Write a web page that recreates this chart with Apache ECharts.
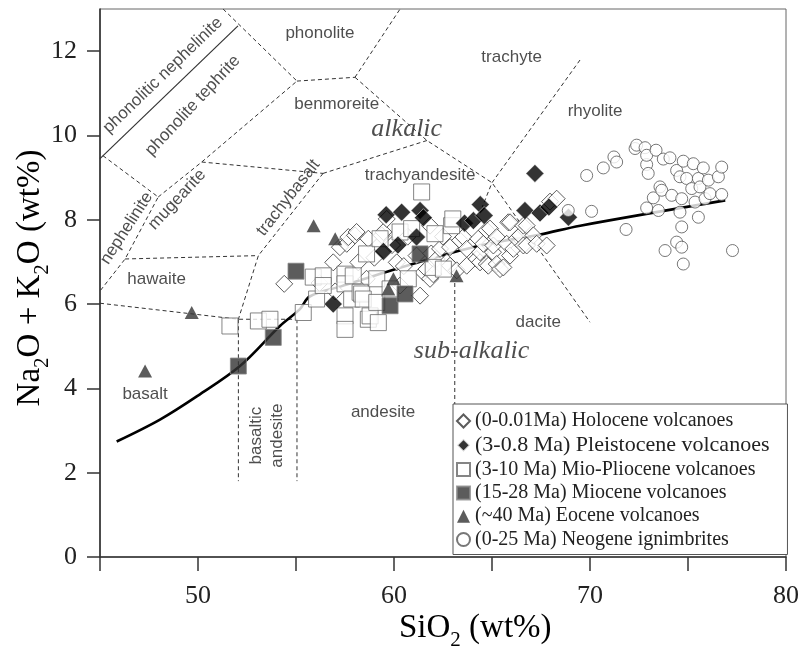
<!DOCTYPE html>
<html><head><meta charset="utf-8">
<script src="https://cdn.jsdelivr.net/npm/echarts@6/dist/echarts.min.js"></script>
<style>html,body{margin:0;padding:0;background:#fff}#c{width:805px;height:651px}</style>
</head><body><div id="c"></div>
<script>
// ---- data (SiO2 wt%, Na2O+K2O wt%) ----
const holocene = [[54.4,6.48],[56.2,6.5],[56.9,6.99],[57.0,6.3],[57.24,7.35],[57.59,7.43],[57.67,7.59],[58.01,7.63],[58.09,7.71],[58.18,6.99],[58.6,6.6],[58.69,7.55],[59.0,7.1],[59.37,7.63],[59.46,7.71],[59.63,8.02],[59.9,7.4],[60.14,6.99],[60.31,6.44],[60.5,6.9],[60.7,7.6],[61.15,7.15],[61.33,6.2],[61.5,6.75],[61.66,6.83],[61.84,6.6],[61.84,7.86],[61.9,7.2],[62.0,6.71],[62.18,7.07],[62.35,7.31],[62.5,7.6],[62.69,6.99],[62.86,7.35],[62.86,6.91],[63.2,6.8],[63.37,7.51],[63.54,7.59],[63.71,6.91],[63.71,7.31],[64.22,7.07],[64.3,7.55],[64.39,6.99],[64.39,7.23],[64.56,7.43],[64.73,6.95],[64.73,7.75],[64.81,6.91],[64.9,7.79],[65.05,7.23],[65.07,7.39],[65.24,6.95],[65.24,7.59],[65.41,6.83],[65.58,6.87],[65.75,7.43],[65.83,7.94],[65.92,7.15],[65.92,7.94],[66.09,7.31],[66.26,7.55],[66.43,7.63],[66.6,7.39],[66.6,7.86],[66.77,7.39],[66.77,7.86],[67.11,7.63],[67.28,7.43],[67.79,7.39],[67.96,8.43],[68.3,8.5]];
const pleistocene = [[56.9,6.0],[59.46,7.25],[59.6,8.12],[60.2,7.4],[60.39,8.18],[61.33,8.22],[61.5,8.05],[61.15,7.59],[63.6,7.92],[64.05,7.98],[64.4,8.36],[64.6,8.1],[66.68,8.22],[67.45,8.16],[67.9,8.3],[68.9,8.06],[67.19,9.1]];
const mioPliocene = [[51.63,5.48],[53.08,5.6],[53.67,5.64],[55.37,5.8],[55.88,6.64],[56.05,6.12],[56.39,6.67],[56.39,6.44],[57.5,6.71],[57.5,6.48],[57.5,5.72],[57.5,5.4],[57.84,6.12],[57.92,6.67],[58.27,6.28],[58.35,6.24],[58.43,6.12],[58.6,7.19],[58.69,5.64],[58.78,5.72],[59.12,6.6],[59.12,6.04],[59.2,5.56],[59.29,7.55],[59.8,6.36],[60.31,7.71],[60.73,6.6],[60.9,7.79],[61.41,8.66],[62.0,6.87],[62.09,7.67],[62.52,6.83],[62.94,7.86],[63.0,8.02]];
const miocene = [[52.06,4.53],[53.84,5.21],[55.0,6.78],[59.8,5.96],[60.56,6.24],[61.33,7.19]];
const eocene = [[47.3,4.41],[49.68,5.8],[55.9,7.86],[57.0,7.55],[59.71,6.36],[59.97,6.6],[63.19,6.67]];
const ignimbrites = [[68.89,8.22],[69.83,9.05],[70.08,8.2],[70.68,9.23],[71.22,9.49],[71.36,9.37],[71.84,7.77],[72.3,9.69],[72.38,9.77],[72.81,9.71],[72.89,9.31],[72.89,9.53],[72.97,9.1],[72.89,8.28],[73.23,8.52],[73.37,9.65],[73.49,8.22],[73.57,8.78],[73.66,8.7],[73.74,9.44],[73.83,7.27],[74.08,9.47],[74.17,8.58],[74.42,9.17],[74.42,7.47],[74.59,9.02],[74.59,8.18],[74.68,8.5],[74.68,7.83],[74.68,7.35],[74.76,9.39],[74.76,6.95],[74.93,8.98],[75.19,8.74],[75.27,9.33],[75.36,8.42],[75.53,8.98],[75.53,8.06],[75.61,8.78],[75.78,9.23],[75.87,8.5],[76.04,8.94],[76.12,8.62],[76.55,9.02],[76.72,9.25],[76.72,8.6],[77.27,7.27]];

// ---- classification boundaries ----
const solidBoundary = [[45,9.45],[52.04,12.6]];
const dashedBoundaries = [
  [[51.28,13],[55.05,11.29]],
  [[55.05,11.29],[58.01,11.38]],
  [[58.01,11.38],[60.31,13]],
  [[58.01,11.38],[61.68,9.88],[65.0,8.88],[70.0,5.57]],
  [[69.49,11.79],[65.0,8.88],[64.5,8.3]],
  [[56.38,9.1],[61.68,9.88]],
  [[50.19,9.37],[56.38,9.1]],
  [[47.97,8.54],[50.19,9.37],[55.05,11.29]],
  [[45.15,9.52],[47.97,8.54],[46.28,7.07],[45,6.31]],
  [[46.28,7.07],[53.08,7.15]],
  [[56.38,9.1],[53.08,7.15],[52.06,5.64]],
  [[45,6.02],[52.06,5.64],[55.05,5.64]],
  [[52.06,5.64],[52.06,1.8]],
  [[55.05,5.64],[55.05,1.8]],
  [[63.1,6.5],[63.1,1.8]]
];
const alkalineCurve = [[45.85,2.74],[48.06,3.26],[50,3.83],[52.14,4.53],[54.18,5.48],[55.2,5.88],[55.7,6.18],[57.3,6.42],[60.65,6.91],[64.4,7.39],[67.45,7.65],[69.5,7.86],[76.9,8.46]];

const regionLabels = [
  ['phonolitic nephelinite',48.21,11.43,44],
  ['phonolite tephrite',49.74,10.71,47],
  ['phonolite',56.22,12.43,0],
  ['trachyte',66.0,11.85,0],
  ['rhyolite',70.26,10.57,0],
  ['benmoreite',57.08,10.75,0],
  ['trachyandesite',61.33,9.05,0],
  ['dacite',67.36,5.56,0],
  ['andesite',59.44,3.43,0],
  ['hawaite',47.89,6.59,0],
  ['basalt',47.3,3.86,0],
  ['nephelinite',46.36,7.8,57],
  ['mugearite',48.94,8.48,47],
  ['trachybasalt',54.61,8.52,52],
  ['basaltic\nandesite',53.49,2.88,90]
];
const fieldLabels = [['alkalic',60.65,10.15],['sub-alkalic',63.96,4.89]];

const xTicks = [45,50,55,60,65,70,75,80];
const xTickLabels = [50,60,70,80];
const yTicks = [0,2,4,6,8,10,12];

const legendNames = ['(0-0.01Ma) Holocene volcanoes','(3-0.8 Ma) Pleistocene volcanoes','(3-10 Ma) Mio-Pliocene volcanoes','(15-28 Ma) Miocene volcanoes','(~40 Ma) Eocene volcanoes','(0-25 Ma) Neogene ignimbrites'];

const SERIF = "'Liberation Serif','DejaVu Serif',serif";
const SANS = "'Liberation Sans',Arial,sans-serif";
const dashStyle = {color:'#333', width:1, type:[4,3]};

const series = [];
dashedBoundaries.forEach(p => series.push({type:'line', data:p, symbol:'none', silent:true, lineStyle:dashStyle, z:1}));
series.push({type:'line', data:solidBoundary, symbol:'none', silent:true, lineStyle:{color:'#333', width:1.2}, z:1});
series.push({type:'line', data:alkalineCurve, symbol:'none', smooth:0.35, silent:true, lineStyle:{color:'#000', width:2.6}, z:3});
series.push({type:'scatter', silent:true, symbolSize:0, z:2,
  data: regionLabels.map(l => ({value:[l[1],l[2]], label:{rotate:l[3], formatter:l[0]}})),
  label:{show:true, position:'inside', fontFamily:SANS, fontSize:17, color:'#222', lineHeight:21}});
series.push({type:'scatter', silent:true, symbolSize:0, z:2,
  data: fieldLabels.map(l => ({value:[l[1],l[2]], label:{formatter:l[0]}})),
  label:{show:true, position:'inside', fontFamily:SERIF, fontStyle:'italic', fontSize:26, color:'#222'}});

const pts = [
  {name:legendNames[0], data:holocene, symbol:'diamond', symbolSize:17, itemStyle:{color:'#fff', borderColor:'#333', borderWidth:1}},
  {name:legendNames[2], data:mioPliocene, symbol:'rect', symbolSize:16, itemStyle:{color:'#fff', borderColor:'#666', borderWidth:1}},
  {name:legendNames[1], data:pleistocene, symbol:'diamond', symbolSize:18, itemStyle:{color:'#000', borderColor:'#fff', borderWidth:0.6}},
  {name:legendNames[3], data:miocene, symbol:'rect', symbolSize:16, itemStyle:{color:'#333', borderColor:'#888', borderWidth:1}},
  {name:legendNames[4], data:eocene, symbol:'triangle', symbolSize:[14,13], itemStyle:{color:'#333'}},
  {name:legendNames[5], data:ignimbrites, symbol:'circle', symbolSize:12, itemStyle:{color:'#fff', borderColor:'#555', borderWidth:1}}
];
pts.forEach(s => series.push(Object.assign({type:'scatter', z:4, silent:true}, s)));

const chart = echarts.init(document.getElementById('c'));
chart.setOption({
  animation:false,
  backgroundColor:'#fff',
  grid:{left:100, right:19, top:9, bottom:94, show:true, borderColor:'#666', borderWidth:1, backgroundColor:'transparent'},
  xAxis:{type:'value', min:45, max:80,
    axisLine:{show:true, onZero:false, lineStyle:{color:'#333', width:1.6}},
    axisTick:{show:true, length:14, customValues:xTicks, lineStyle:{color:'#333', width:1.5}},
    axisLabel:{customValues:xTickLabels, margin:26, fontFamily:SERIF, fontSize:26, color:'#222'},
    splitLine:{show:false}},
  yAxis:{type:'value', min:0, max:13,
    axisLine:{show:true, onZero:false, lineStyle:{color:'#333', width:1.6}},
    axisTick:{show:true, length:13, customValues:yTicks, lineStyle:{color:'#333', width:1.5}},
    axisLabel:{customValues:yTicks, margin:23, fontFamily:SERIF, fontSize:26, color:'#222'},
    splitLine:{show:false}},
  legend:{orient:'vertical', left:453, top:404, backgroundColor:'#fff', borderColor:'#555', borderWidth:1,
    padding:[7,18,5,3], itemGap:3.3, itemWidth:13, itemHeight:13, selectedMode:false,
    textStyle:{fontFamily:SERIF, fontSize:20, color:'#222'},
    data:[legendNames[0], {name:legendNames[1], textStyle:{fontSize:22}}, legendNames[2], legendNames[3], legendNames[4], legendNames[5]]},
  graphic:[
    {type:'text', left:399, top:612, silent:true, style:{text:'{a|SiO}{s|2}{a| (wt%)}', rich:{a:{fontFamily:SERIF, fontSize:33, color:'#222', padding:[0,0,6,0], verticalAlign:'bottom'}, s:{fontFamily:SERIF, fontSize:21, color:'#222', verticalAlign:'bottom'}}}},
    {type:'text', x:33, y:278, rotation:Math.PI/2, silent:true, style:{text:'{a|Na}{s|2}{a|O + K}{s|2}{a|O (wt%)}', align:'center', verticalAlign:'middle', rich:{a:{fontFamily:SERIF, fontSize:33, color:'#222', padding:[0,0,6,0], verticalAlign:'bottom'}, s:{fontFamily:SERIF, fontSize:21, color:'#222', verticalAlign:'bottom'}}}}
  ],
  series:series
});
</script></body></html>
